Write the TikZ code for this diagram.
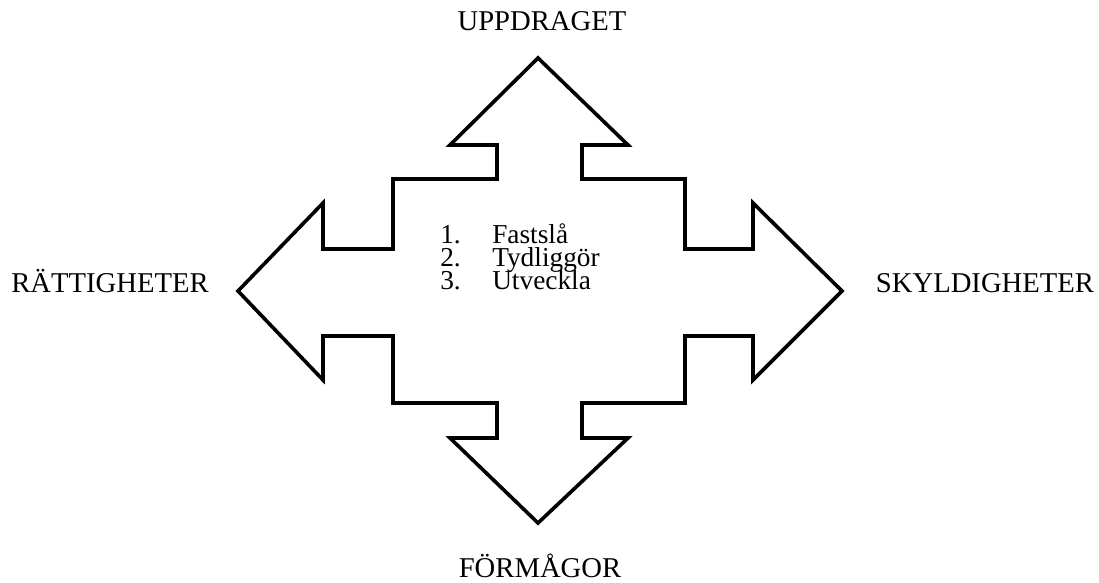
\documentclass[tikz,border=0pt]{standalone}
\usepackage{fontspec}
\setmainfont{Liberation Serif}
\begin{document}
\begin{tikzpicture}[x=0.75pt,y=-0.75pt,
  outline/.style={draw=black,line width=2.7pt,line join=miter,fill=white},
  lbl/.style={inner sep=0pt,anchor=base,font=\fontsize{21.5pt}{24pt}\selectfont},
  itm/.style={inner sep=0pt,anchor=base west,font=\fontsize{20.5pt}{17.6pt}\selectfont}]
\useasboundingbox[fill=white] (0,0) rectangle (1099,582);
\draw[outline] (538,58) -- (628,145) -- (582,145) -- (582,179) -- (685,179) -- (685,249)
  -- (753,249) -- (753,203) -- (842,291) -- (753,380) -- (753,336) -- (685,336)
  -- (685,403) -- (582,403) -- (582,438) -- (628,438) -- (538,523) -- (450,438)
  -- (497,438) -- (497,403) -- (393,403) -- (393,336) -- (323,336) -- (323,380)
  -- (238,291) -- (323,203) -- (323,249) -- (393,249) -- (393,179) -- (497,179)
  -- (497,145) -- (450,145) -- cycle;
\node[lbl] (up) at (542,30) {UPPDRAGET};
\node[lbl] (ratt) at (110,292) {RÄTTIGHETER};
\node[lbl] (skyl) at (985,292) {SKYLDIGHETER};
\node[lbl] (form) at (540,577) {FÖRMÅGOR};
\node[itm] (list) at (440,243) {\begin{tabular}[t]{@{}p{39pt}@{}l@{}}\smash{1.}&\smash{Fastslå}\\\smash{2.}&\smash{Tydliggör}\\\smash{3.}&\smash{Utveckla}\end{tabular}};
\end{tikzpicture}
\end{document}
